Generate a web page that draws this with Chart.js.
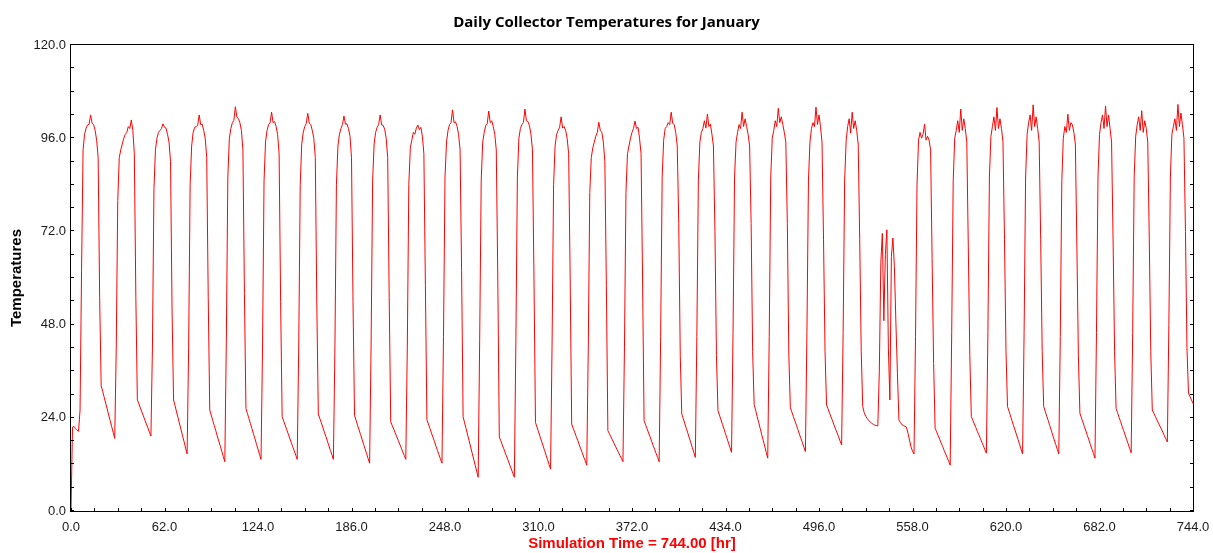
<!DOCTYPE html>
<html lang="en">
<head>
<meta charset="UTF-8">
<title>Daily Collector Temperatures for January</title>
<script src="https://cdn.jsdelivr.net/npm/chart.js"></script>
<style>
    html, body { margin: 0; padding: 0; background: #ffffff; }
    canvas { display: block; }
</style>
</head>
<body>
<canvas id="tempChart" width="1213" height="553"></canvas>
<script>
// hourly collector temperature, one array per day (24 values, hour 0..23 of that day)
const day01 = [0, 21.6, 21.8, 21.2, 20.8, 20.5, 26, 62, 93, 97, 98.6, 99.4, 99.6, 102, 99.8, 99.5, 98, 95.5, 91, 55, 32.3, 30.8, 29.3, 27.8];
const day02 = [26.3, 24.7, 23.2, 21.7, 20.2, 18.7, 42, 80, 91, 93, 94.5, 96, 97, 97.5, 99, 98.5, 100.7, 98, 92, 55, 28.6, 27.6, 26.5, 25.5];
const day03 = [24.5, 23.4, 22.4, 21.4, 20.3, 19.3, 42, 83, 93, 96, 97.5, 98, 98.5, 99.7, 98.8, 98.6, 97, 95, 90, 52, 28.6, 27.1, 25.5, 24.0];
const day04 = [22.4, 20.9, 19.3, 17.8, 16.2, 14.7, 42, 84, 94, 97.5, 98.8, 99, 99.3, 102, 99.5, 99.6, 98, 96, 91, 55, 26, 24.7, 23.3, 22.0];
const day05 = [20.7, 19.3, 18.0, 16.7, 15.4, 14.0, 12.7, 44, 86, 96, 98.5, 100, 100.6, 104.1, 101.5, 101, 100, 98, 93, 56, 26.4, 25.1, 23.8, 22.5];
const day06 = [21.2, 19.9, 18.6, 17.2, 15.9, 14.6, 13.3, 42, 85, 95, 98, 99.5, 100, 102.7, 100, 100.3, 99, 97, 92, 54, 24.3, 23.2, 22.1, 21.0];
const day07 = [19.9, 18.8, 17.7, 16.6, 15.5, 14.4, 13.3, 42, 84, 94.5, 97.5, 99, 99.8, 102.4, 99.9, 99.5, 98, 96, 91, 53, 25, 23.8, 22.7, 21.5];
const day08 = [20.3, 19.2, 18.0, 16.8, 15.6, 14.5, 13.3, 42, 84, 94, 97, 98.5, 99.5, 101.7, 99.6, 99.7, 98.5, 96.5, 91, 54, 24.6, 23.4, 22.1, 20.9];
const day09 = [19.7, 18.5, 17.2, 16.0, 14.8, 13.5, 12.3, 43, 85, 94.5, 97.5, 98.8, 99.5, 102, 99.4, 99.3, 98.3, 96, 91, 55, 23, 22.0, 21.1, 20.1];
const day10 = [19.1, 18.2, 17.2, 16.2, 15.2, 14.3, 13.3, 42, 84, 93.5, 95.5, 97.5, 97, 98.6, 99.4, 98.2, 98.8, 96.5, 92, 58, 23.5, 22.4, 21.3, 20.1];
const day11 = [19.0, 17.9, 16.7, 15.6, 14.5, 13.4, 12.3, 45, 86, 95, 98, 99.5, 100, 103.3, 100, 100.2, 99, 97, 93, 62, 24.3, 22.7, 21.2, 19.6];
const day12 = [18.1, 16.5, 14.9, 13.4, 11.8, 10.3, 8.7, 44, 85, 95, 97.5, 99.3, 99.8, 103, 100, 100.5, 99, 97, 93, 60, 19.1, 18.1, 17.0, 16.0];
const day13 = [14.9, 13.9, 12.9, 11.8, 10.8, 9.7, 8.7, 44, 86, 96, 98.5, 99.5, 100, 103.5, 100.5, 100.3, 99.2, 97, 93, 60, 22.8, 21.6, 20.4, 19.2];
const day14 = [18.0, 16.8, 15.6, 14.4, 13.2, 12.0, 10.8, 43, 84, 94, 97, 98, 98.8, 101.5, 98.6, 99, 98, 96, 92, 60, 22.4, 21.3, 20.3, 19.2];
const day15 = [18.2, 17.1, 16.0, 15.0, 13.9, 12.9, 11.8, 42, 82, 91, 93.5, 95, 96.5, 97.5, 100.1, 98, 97.5, 95, 90, 58, 20.7, 19.9, 19.1, 18.3];
const day16 = [17.5, 16.7, 15.9, 15.1, 14.3, 13.5, 12.7, 42, 82, 92, 94, 96, 97.5, 98.5, 100.4, 98.5, 98.8, 96, 92, 60, 23.3, 22.2, 21.2, 20.1];
const day17 = [19.1, 18.0, 16.9, 15.9, 14.8, 13.8, 12.7, 45, 86, 95.5, 98.5, 99, 100, 99.5, 102.7, 99.8, 99.5, 97.5, 94, 74, 40, 25, 23.8, 22.5];
const day18 = [21.3, 20.1, 18.8, 17.6, 16.3, 15.1, 13.8, 45, 85, 95, 97.5, 98.5, 100.5, 98.6, 102.2, 99, 99.6, 97, 94, 72, 40, 25.9, 24.7, 23.5];
const day19 = [22.3, 21.1, 19.9, 18.7, 17.5, 16.3, 15.1, 46, 86, 95, 97.5, 99.5, 98.5, 102.7, 99, 101, 99, 97, 94, 74, 41, 27.4, 25.9, 24.3];
const day20 = [22.8, 21.3, 19.7, 18.2, 16.7, 15.1, 13.6, 45, 86, 96, 98, 100.5, 99, 103.7, 100, 101.5, 99.5, 97.5, 95, 74, 40, 26.6, 25.5, 24.3];
const day21 = [23.2, 22.1, 21.0, 19.8, 18.7, 17.6, 16.4, 15.3, 46, 85, 95, 98.5, 100, 99, 104, 99.5, 102, 99, 95, 70, 41, 27.3, 26.3, 25.2];
const day22 = [24.2, 23.2, 22.1, 21.1, 20.1, 19.1, 18.0, 17.0, 46, 85, 95.5, 99, 101, 97.3, 102.7, 98.5, 100.5, 98, 94.5, 70, 41, 26.9, 25.3, 24.4];
const day23 = [23.8, 23.3, 22.9, 22.6, 22.3, 22.1, 22.0, 21.9, 36, 64, 71.5, 49, 66, 72.4, 42, 28.6, 65.5, 70.3, 62.9, 48.4, 35.5, 23.4, 22.8, 22.2];
const day24 = [22.0, 21.8, 21.6, 20.0, 18.3, 16.5, 15.4, 14.7, 45, 84, 95.5, 97.5, 96, 97, 99.6, 95.5, 96.5, 95.5, 93, 65, 38, 21.3, 20.4, 19.4];
const day25 = [18.5, 17.5, 16.6, 15.6, 14.7, 13.7, 12.8, 11.8, 46, 85, 96, 98, 100.5, 97.5, 103.5, 98, 101, 98.5, 95, 68, 40, 24.3, 23.4, 22.4];
const day26 = [21.5, 20.5, 19.6, 18.7, 17.7, 16.8, 15.8, 14.9, 46, 86, 96.5, 99, 101.5, 98, 103.9, 98.5, 101, 98.5, 95, 70, 41, 26.9, 25.7, 24.5];
const day27 = [23.2, 22.0, 20.8, 19.6, 18.4, 17.2, 15.9, 14.7, 46, 86, 97, 100, 102, 98, 104.6, 99, 101.5, 98.5, 95, 70, 41, 26.9, 25.7, 24.4];
const day28 = [23.3, 22.0, 20.8, 19.5, 18.3, 17.1, 15.9, 14.7, 45, 85, 96, 99, 97.5, 102.2, 98, 100, 99.5, 97.5, 94.5, 68, 40, 25.2, 24.0, 22.9];
const day29 = [21.7, 20.6, 19.4, 18.3, 17.1, 15.9, 14.8, 13.6, 46, 86, 97, 100, 102, 98.5, 104.3, 99, 102, 98.5, 95, 70, 41, 26.4, 25.3, 24.1];
const day30 = [23.0, 21.8, 20.7, 19.6, 18.4, 17.3, 16.1, 15.0, 46, 86, 96.5, 99.5, 101.5, 98, 103.1, 97.5, 100.5, 98.5, 95, 70, 41, 26, 25.2, 24.4];
const day31 = [23.5, 22.7, 21.9, 21.1, 20.3, 19.4, 18.6, 17.8, 48, 86, 97, 99, 101, 98, 104.7, 99, 102.5, 99.5, 96, 72, 42, 30.4, 29.5, 28.6];
const lastHour = [27.7]; // value at hr 744

const xTickValues = [0, 62, 124, 186, 248, 310, 372, 434, 496, 558, 620, 682, 744];
const yTickValues = [0, 24, 48, 72, 96, 120];

const temps = [].concat(day01, day02, day03, day04, day05, day06, day07, day08, day09, day10,
    day11, day12, day13, day14, day15, day16, day17, day18, day19, day20,
    day21, day22, day23, day24, day25, day26, day27, day28, day29, day30, day31, lastHour);
const points = temps.map((t, hr) => ({ x: hr, y: t }));

// black box round the plot with small inward ticks (major + 4 subdivisions)
const framePlugin = {
    id: 'frame',
    afterDatasetsDraw(chart) {
        const { ctx, chartArea: a, scales: { x, y } } = chart;
        ctx.save();
        ctx.strokeStyle = '#000000';
        ctx.lineWidth = 1;
        ctx.strokeRect(a.left - 0.5, a.top - 0.5, a.right - a.left + 1, a.bottom - a.top + 1);
        ctx.beginPath();
        for (let i = 0; i < xTickValues.length - 1; i++) {
            const step = (xTickValues[i + 1] - xTickValues[i]) / 4;
            for (let k = 0; k < 4; k++) {
                const px = Math.round(x.getPixelForValue(xTickValues[i] + k * step)) + 0.5;
                ctx.moveTo(px, a.bottom);
                ctx.lineTo(px, a.bottom - 3);
            }
        }
        for (let i = 0; i < yTickValues.length - 1; i++) {
            const step = (yTickValues[i + 1] - yTickValues[i]) / 4;
            for (let k = 0; k < 4; k++) {
                const py = Math.round(y.getPixelForValue(yTickValues[i] + k * step)) - 0.5;
                ctx.moveTo(a.left, py);
                ctx.lineTo(a.left + 3, py);
                ctx.moveTo(a.right, py);
                ctx.lineTo(a.right - 3, py);
            }
        }
        ctx.stroke();
        ctx.restore();
    }
};

const tickFont = { family: "'Liberation Sans', Arial, sans-serif", size: 13 };

new Chart(document.getElementById('tempChart'), {
    type: 'line',
    data: {
        datasets: [{
            data: points,
            borderColor: '#ff0000',
            borderWidth: 1,
            pointRadius: 0,
            tension: 0,
            fill: false
        }]
    },
    options: {
        responsive: false,
        animation: false,
        layout: { padding: 0 },
        plugins: {
            legend: { display: false },
            tooltip: { enabled: false },
            title: {
                display: true,
                text: 'Daily Collector Temperatures for January',
                color: '#000000',
                font: { family: "'Open Sans', sans-serif", size: 15, weight: 'bold' },
                padding: { top: 14, bottom: 13 }
            }
        },
        scales: {
            x: {
                type: 'linear',
                min: 0,
                max: 744,
                afterBuildTicks: s => { s.ticks = xTickValues.map(v => ({ value: v })); },
                afterFit: s => { s.height = 42; s.paddingLeft = 0; s.paddingRight = 20; },
                grid: { display: false, drawTicks: false },
                border: { display: false },
                ticks: {
                    color: '#1a1a1a',
                    font: tickFont,
                    padding: 9,
                    maxRotation: 0,
                    callback: v => Number(v).toFixed(1)
                },
                title: {
                    display: true,
                    text: 'Simulation Time = 744.00 [hr]',
                    color: '#ff0000',
                    font: { family: "'Liberation Sans', Arial, sans-serif", size: 15, weight: 'bold' },
                    padding: { top: 0, bottom: 0 }
                }
            },
            y: {
                min: 0,
                max: 120,
                afterBuildTicks: s => { s.ticks = yTickValues.map(v => ({ value: v })); },
                afterFit: s => { s.width = 71; s.paddingTop = 0; s.paddingBottom = 0; },
                grid: { display: false, drawTicks: false },
                border: { display: false },
                ticks: {
                    color: '#1a1a1a',
                    font: tickFont,
                    padding: 5,
                    callback: v => Number(v).toFixed(1)
                },
                title: {
                    display: true,
                    text: 'Temperatures',
                    color: '#000000',
                    font: { family: "'Liberation Sans', Arial, sans-serif", size: 15, weight: 'bold' },
                    padding: { top: 8, bottom: 0 }
                }
            }
        }
    },
    plugins: [framePlugin]
});
</script>
</body>
</html>
